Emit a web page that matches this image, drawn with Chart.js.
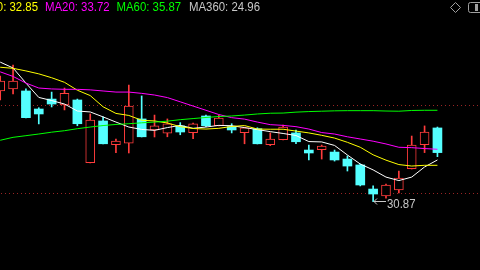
<!DOCTYPE html>
<html><head><meta charset="utf-8">
<script src="https://cdn.jsdelivr.net/npm/chart.js@4/dist/chart.umd.min.js"></script>
<style>html,body{margin:0;padding:0;background:#000;overflow:hidden}#wrap{width:480px;height:270px;position:relative}</style>
</head><body><div id="wrap"><canvas id="c" width="480" height="270"></canvas></div>
<script>
// ---- data ----
const opens  = [36.89,37.00,36.89,35.91,36.45,36.13,36.40,32.99,35.26,33.97,34.05,35.37,34.77,34.59,34.99,34.62,35.53,35.00,34.95,34.62,34.84,33.97,34.24,34.61,33.68,33.70,33.57,33.19,32.87,31.56,31.18,31.51,32.67,33.97,34.88];
const highs  = [37.70,38.30,37.00,35.98,36.83,37.05,36.45,35.64,35.48,34.28,37.21,36.62,35.58,35.37,35.17,35.15,35.58,35.58,35.11,34.93,34.89,34.61,35.04,34.77,33.95,33.95,33.68,33.36,32.92,31.73,31.83,32.54,34.44,34.99,34.93];
const lows   = [36.40,36.73,35.42,35.10,36.02,35.86,35.00,32.98,34.01,33.54,33.52,34.39,34.39,34.40,34.51,34.30,34.95,34.99,34.61,34.02,34.01,33.92,34.23,34.02,33.14,33.19,33.08,32.54,31.73,30.87,31.07,31.35,32.65,33.54,33.32];
const closes = [37.43,37.43,35.44,35.64,36.18,36.76,35.11,35.31,34.02,34.17,36.07,34.40,34.99,35.10,34.66,35.10,35.00,35.42,34.77,34.88,34.02,34.28,34.93,34.13,33.52,33.90,33.14,32.81,31.78,31.29,31.78,32.16,33.95,34.66,33.54];
const ma5  = [38.46,38.14,37.32,36.54,36.37,36.18,35.80,35.75,35.48,35.20,34.93,34.80,34.75,34.90,35.02,34.86,34.93,35.02,35.00,34.90,34.79,34.68,34.58,34.47,34.14,34.12,33.93,33.41,32.92,32.60,32.21,32.02,32.21,32.76,33.14];
const ma10 = [38.18,38.12,37.98,37.82,37.61,37.36,36.93,36.64,36.03,35.67,35.56,35.30,35.26,35.15,34.95,34.85,34.82,34.86,34.96,35.01,34.82,34.81,34.81,34.71,34.61,34.48,34.33,34.10,33.83,33.42,33.13,32.89,32.81,32.85,32.85];
const ma20 = [37.93,37.68,37.32,37.05,37.00,36.98,36.98,36.95,36.89,36.83,36.83,36.76,36.67,36.53,36.30,36.07,35.84,35.61,35.44,35.36,35.20,35.06,35.02,34.95,34.82,34.63,34.55,34.40,34.28,34.16,34.01,33.83,33.81,33.76,33.72];
const ma60 = [34.21,34.37,34.46,34.55,34.65,34.73,34.84,34.93,35.01,35.07,35.11,35.16,35.20,35.25,35.33,35.39,35.45,35.50,35.53,35.58,35.64,35.68,35.69,35.74,35.77,35.79,35.81,35.82,35.82,35.82,35.80,35.79,35.83,35.84,35.84];
const legendKeys   = ['MA10','MA20','MA60','MA360'];
const legendValues = ['32.85','33.72','35.87','24.96'];
const gridPrices   = [36.13, 31.33];

// ---- styles / layout ----
const RED = '#ff3c3c', CYAN = '#54ffff';
const legendColors = ['#ffff00','#ff00ff','#00ff00','#c8c8c8'];
const legendX     = [38, 45, 116.5, 189];
const legendAlign = ['right','left','left','left'];
const TEXT_SX = 0.95;

const idx = opens.map((_, i) => i);
const up = idx.map(i => closes[i] >= opens[i]);

function squeezedText(c, s, x, y, align) {
  c.save();
  c.translate(x, y); c.scale(TEXT_SX, 1);
  c.textAlign = align; c.fillText(s, 0, 0);
  c.restore();
}

const overlay = {
  id: 'overlay',
  beforeDraw(chart) {
    const c = chart.ctx; c.save(); c.fillStyle = '#000'; c.fillRect(0, 0, chart.width, chart.height); c.restore();
  },
  beforeDatasetsDraw(chart) {
    const c = chart.ctx, y = chart.scales.y;
    c.save();
    c.strokeStyle = '#9a2424'; c.lineWidth = 1; c.setLineDash([1, 3]);
    gridPrices.forEach(p => {
      const py = Math.round(y.getPixelForValue(p)) + 0.5;
      c.beginPath(); c.moveTo(1, py); c.lineTo(chart.width, py); c.stroke();
    });
    c.restore();
  },
  afterDraw(chart) {
    const c = chart.ctx, x = chart.scales.x, y = chart.scales.y;
    c.save();
    c.font = '12px "Liberation Sans", Arial, sans-serif';
    c.textBaseline = 'alphabetic';
    legendKeys.forEach((k, i) => {
      c.fillStyle = legendColors[i];
      squeezedText(c, k + ': ' + legendValues[i], legendX[i], 11, legendAlign[i]);
    });
    // lowest-low marker
    const minLow = Math.min(...lows), li = lows.indexOf(minLow);
    const px = Math.round(x.getPixelForValue(li)), py = Math.round(y.getPixelForValue(minLow)) - 0.5;
    c.strokeStyle = '#c8c8c8'; c.lineWidth = 1;
    c.beginPath(); c.moveTo(px + 1, py); c.lineTo(px + 13, py); c.stroke();
    c.beginPath(); c.moveTo(px + 4, py - 3); c.lineTo(px + 1, py); c.lineTo(px + 4, py + 3); c.stroke();
    c.fillStyle = '#c8c8c8';
    squeezedText(c, minLow.toFixed(2), px + 14, py + 6, 'left');
    // top-right icons
    c.strokeStyle = '#a0a0a0';
    c.beginPath(); c.moveTo(455.5, 2.5); c.lineTo(460.5, 7.5); c.lineTo(455.5, 12.5); c.lineTo(450.5, 7.5); c.closePath(); c.stroke();
    c.beginPath(); c.roundRect(468.5, 2.5, 14, 10, 2); c.stroke();
    c.fillStyle = '#a0a0a0'; c.fillRect(475, 4, 3, 7);
    c.restore();
  }
};

const line = (d, col) => ({
  type: 'line', data: idx.map(i => ({x: i, y: d[i]})), borderColor: col, borderWidth: 1,
  pointRadius: 0, tension: 0, fill: false, order: 1
});

new Chart(document.getElementById('c'), {
  type: 'bar',
  data: {
    datasets: [
      line(ma60, '#00ff00'),
      line(ma20, '#ff00ff'),
      line(ma10, '#ffff00'),
      line(ma5, '#ffffff'),
      {
        type: 'bar', grouped: false, order: 5,
        data: idx.map(i => ({x: i, y: [opens[i], closes[i]]})),
        backgroundColor: idx.map(i => up[i] ? '#000000' : CYAN),
        borderColor: idx.map(i => up[i] ? RED : CYAN),
        borderWidth: idx.map(i => up[i] ? 1 : 0),
        borderSkipped: false, barThickness: 9
      },
      {
        type: 'bar', grouped: false, order: 6,
        data: idx.map(i => ({x: i, y: [lows[i], highs[i]]})),
        backgroundColor: idx.map(i => up[i] ? RED : CYAN),
        borderWidth: 0, barThickness: 1
      }
    ]
  },
  options: {
    animation: false, responsive: false, devicePixelRatio: 1,
    layout: {padding: 0},
    plugins: {legend: {display: false}, tooltip: {enabled: false}},
    scales: {
      x: {type: 'linear', min: -0.0156, max: 37.31, display: false, offset: false},
      y: {type: 'linear', min: 27.16, max: 41.834, display: false}
    }
  },
  plugins: [overlay]
});
</script>
</body></html>
